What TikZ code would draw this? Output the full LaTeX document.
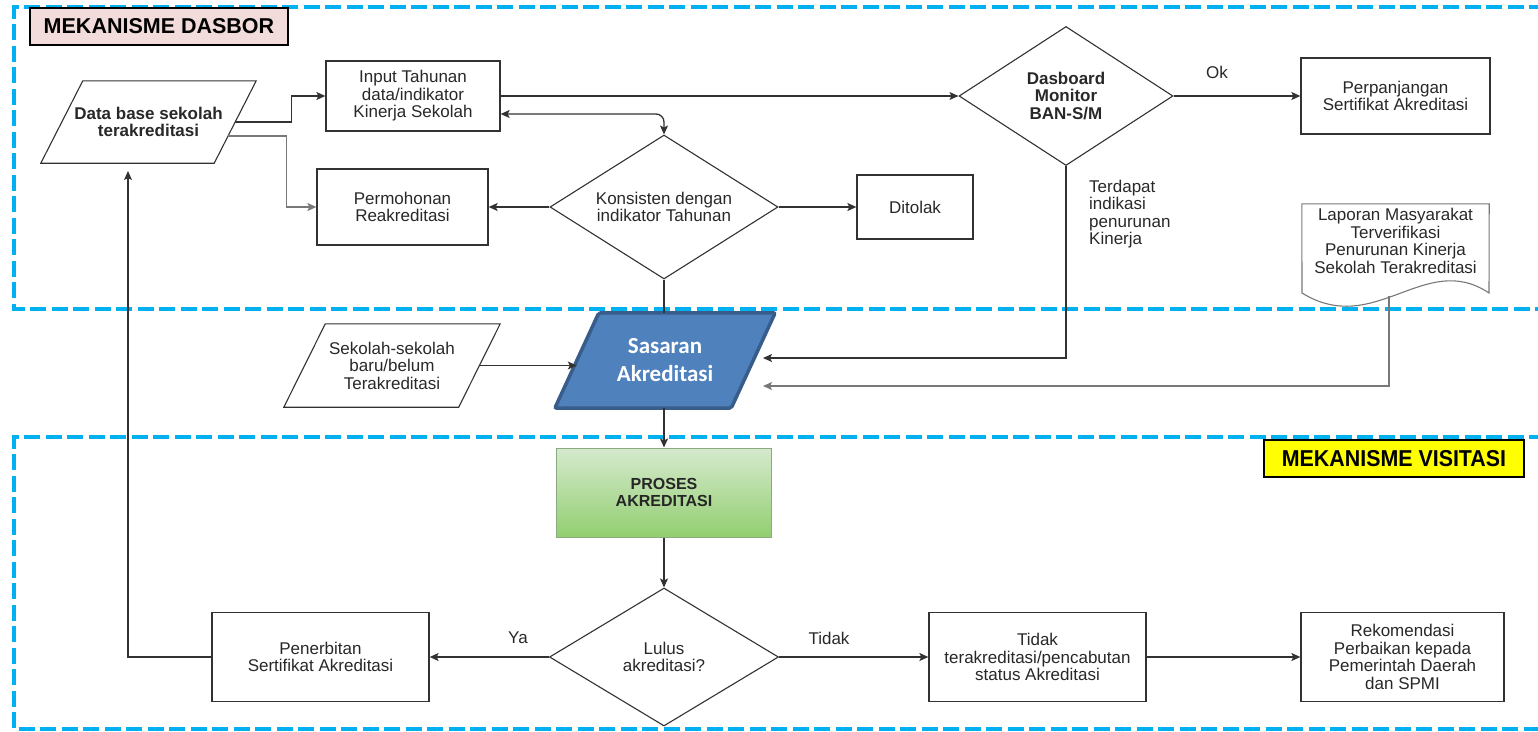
\documentclass[tikz,border=0pt]{standalone}
\usepackage{fontspec}
\setmainfont{Liberation Sans}
\newfontfamily\carlito{Carlito}
\newfontfamily\narrowsans[FakeStretch=0.93]{Liberation Sans}
\usetikzlibrary{shapes,arrows.meta,backgrounds}
\definecolor{frame_blue}{RGB}{0,176,240}
\definecolor{line_gray}{RGB}{50,50,50}
\definecolor{soft_gray}{RGB}{120,120,120}
\definecolor{text_gray}{RGB}{40,40,40}
\definecolor{lbl_pink}{RGB}{242,220,219}
\definecolor{lbl_yellow}{RGB}{255,255,0}
\definecolor{sas_fill}{RGB}{79,129,189}
\definecolor{sas_draw}{RGB}{56,93,138}
\definecolor{pro_top}{RGB}{214,234,206}
\definecolor{pro_bot}{RGB}{146,206,112}
\definecolor{pro_draw}{RGB}{140,170,130}
\tikzstyle{proc}=[rectangle,draw=line_gray,fill=white,line width=1.3pt,align=center,
  text=text_gray,font=\fontsize{17}{17.5}\selectfont,inner sep=2pt]
\tikzstyle{dec}=[diamond,draw=line_gray,fill=white,line width=1.1pt,align=center,
  aspect=1.6,inner sep=0pt,text=text_gray,font=\fontsize{17}{17.5}\selectfont]
\tikzstyle{io}=[rectangle,align=center,text=text_gray,font=\fontsize{17}{17.5}\selectfont,inner sep=0pt]
\tikzstyle{slant}=[draw=line_gray,line width=1.1pt]
\tikzstyle{frame}=[draw=frame_blue,line width=4pt,dash pattern=on 16pt off 5.5pt]
\tikzstyle{lbl}=[rectangle,draw=black,line width=1.2pt,inner sep=0pt,minimum height=37pt]
\tikzstyle{arr}=[draw=line_gray,line width=1.3pt,->]
\tikzstyle{lnk}=[draw=line_gray,line width=1.3pt]
\tikzstyle{note}=[text=text_gray,font=\fontsize{17}{17.5}\selectfont,inner sep=0pt]

\begin{document}
\begin{tikzpicture}[x=1pt,y=-1pt,>={Stealth[length=9pt,width=8pt,inset=2pt]}]
    \useasboundingbox (0,0) rectangle (1538,731);
    % the two dashed areas
    \draw [style=frame] (1545,7) -- (14,7) -- (14,309) -- (1545,309);
    \draw [style=frame] (1545,437) -- (14,437) -- (14,729) -- (1545,729);
    \node [style=lbl,fill=lbl_pink,minimum width=258pt,font=\bfseries\fontsize{21.5}{22}\selectfont] (dasborlbl) at (159,26.5) {MEKANISME DASBOR};
    \node [style=lbl,fill=lbl_yellow,minimum width=260pt,font=\narrowsans\bfseries\fontsize{23}{24}\selectfont] (visitlbl) at (1394,458.5) {MEKANISME VISITASI};

    % dasbor part
    \node [style=io,minimum width=173pt,minimum height=82pt,font=\bfseries\fontsize{17}{17.5}\selectfont] (database) at (148.5,122) {Data base sekolah\\terakreditasi};
    \draw [style=slant] ([xshift=-21pt]database.south west) -- ([xshift=-21pt]database.south east)
      -- ([xshift=21pt]database.north east) -- ([xshift=21pt]database.north west) -- cycle;
    \node [style=proc,minimum width=174pt,minimum height=70pt] (input) at (413,96) {Input Tahunan\\data/indikator\\Kinerja Sekolah};
    \node [style=proc,minimum width=171pt,minimum height=76pt] (permohonan) at (402.5,207) {Permohonan\\Reakreditasi};
    \node [style=dec,minimum width=228pt,minimum height=144pt] (konsisten) at (664,207) {Konsisten dengan\\indikator Tahunan};
    \node [style=proc,minimum width=116pt,minimum height=64pt] (ditolak) at (915,207) {Ditolak};
    \node [style=dec,minimum width=214pt,minimum height=139pt,font=\bfseries\fontsize{17}{17.5}\selectfont] (dasboard) at (1066,96) {Dasboard\\Monitor\\BAN-S/M};
    \node [style=proc,minimum width=189pt,minimum height=76pt] (perpanjangan) at (1395.5,96) {Perpanjangan\\Sertifikat Akreditasi};
    \node [style=note] (ok) at (1217,72) {Ok};
    \node [style=note,align=left,anchor=west] (terdapat) at (1089,214) {Terdapat\\indikasi\\penurunan\\Kinerja};
    \node [style=note,align=center,minimum width=187pt,minimum height=74pt] (laporan) at (1395.5,241) {Laporan Masyarakat\\Terverifikasi\\Penurunan Kinerja\\Sekolah Terakreditasi};
    \draw [draw=soft_gray,line width=1.1pt] (laporan.north west) -- (laporan.north east) -- (1489,293)
      .. controls (1425,250) and (1375,338) .. (1302,293) -- cycle;

    % sasaran
    \node [style=io,minimum width=174.5pt,minimum height=83pt] (sekolah) at (392,365.5) {Sekolah-sekolah\\baru/belum\\Terakreditasi};
    \draw [style=slant] ([xshift=-20.75pt]sekolah.south west) -- ([xshift=-20.75pt]sekolah.south east)
      -- ([xshift=20.75pt]sekolah.north east) -- ([xshift=20.75pt]sekolah.north west) -- cycle;
    \node [style=io,minimum width=176pt,minimum height=95pt,text=white,
      font=\carlito\bfseries\fontsize{23}{28}\selectfont] (sasaran) at (665,360.5) {Sasaran\\Akreditasi};
    \begin{scope}[on background layer]
      \draw [fill=sas_fill,draw=sas_draw,line width=3.5pt,rounded corners=2pt]
        ([xshift=-22pt]sasaran.south west) -- ([xshift=-22pt]sasaran.south east)
        -- ([xshift=22pt]sasaran.north east) -- ([xshift=22pt]sasaran.north west) -- cycle;
    \end{scope}
    \coordinate (sasin1) at (763,358);
    \coordinate (sasin2) at (763,386);
    \coordinate (lapout) at (1389,296);
    \coordinate (dbin) at (128,171);

    % visitasi part
    \node [style=proc,minimum width=215pt,minimum height=89pt,top color=pro_top,bottom color=pro_bot,draw=pro_draw,line width=1pt,
      text=black!85,font=\bfseries\fontsize{16}{17.5}\selectfont] (proses) at (664,492.5) {PROSES\\AKREDITASI};
    \node [style=dec,minimum width=229pt,minimum height=138pt] (lulus) at (664,657) {Lulus\\akreditasi?};
    \node [style=proc,minimum width=217pt,minimum height=89pt] (penerbitan) at (320.5,657) {Penerbitan\\Sertifikat Akreditasi};
    \node [style=proc,minimum width=217pt,minimum height=89pt] (tidakbox) at (1037.5,657) {Tidak\\terakreditasi/pencabutan\\status Akreditasi};
    \node [style=proc,minimum width=203pt,minimum height=89pt] (rekom) at (1402.5,657) {Rekomendasi\\Perbaikan kepada\\Pemerintah Daerah\\dan SPMI};
    \node [style=note] (ya) at (518,638) {Ya};
    \node [style=note] (tidak) at (829,638) {Tidak};

    \draw [style=arr] (database.east) -- ++(56,0) |- (input.west);
    \draw [style=arr,draw=soft_gray] ([xshift=-7pt,yshift=-14pt]database.east) -- ++(58,0) |- (permohonan.west);
    \draw [style=arr] (input.east) -- (dasboard.west);
    \draw [style=lnk,<->,rounded corners=8pt] ([yshift=-18pt]input.east) -| (konsisten.north);
    \draw [style=arr] (konsisten.west) -- (permohonan.east);
    \draw [style=arr] (konsisten.east) -- (ditolak.west);
    \draw [style=arr] (dasboard.east) -- (perpanjangan.west);
    \draw [style=lnk] (konsisten.south) -- (konsisten.south |- sasaran.north);
    \draw [style=arr] (dasboard.south) |- (sasin1);
    \draw [style=arr,draw=soft_gray] (lapout) |- (sasin2);
    \draw [style=arr] (sekolah.east) -- (sekolah.east -| sasaran.west);
    \draw [style=arr] (konsisten.south |- sasaran.south) -- (konsisten.south |- proses.north);
    \draw [style=arr] (proses.south) -- (lulus.north);
    \draw [style=arr] (lulus.west) -- (penerbitan.east);
    \draw [style=arr] (lulus.east) -- (tidakbox.west);
    \draw [style=arr] (tidakbox.east) -- (rekom.west);
    \draw [style=arr] (penerbitan.west) -| (dbin);
  \end{tikzpicture}
\end{document}
